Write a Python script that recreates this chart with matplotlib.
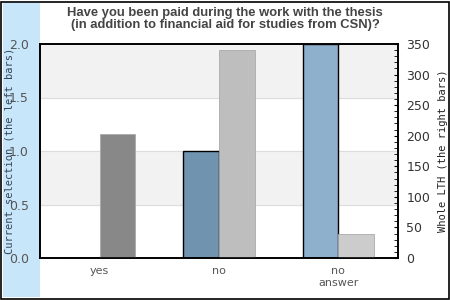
import numpy as np
import matplotlib.pyplot as plt
from matplotlib.patches import Rectangle
from matplotlib.ticker import MultipleLocator

# data
categories = ["yes", "no", "no\nanswer"]
current = [0, 1, 2]            # left axis
whole_lth = [203, 340, 39]     # right axis

blue_colors = ["#7094b0", "#7094b0", "#8fb0cc"]
gray_colors = ["#888888", "#bebebe", "#cccccc"]

fig = plt.figure(figsize=(4.5, 3), dpi=100)
fig.patch.set_facecolor("white")

# light blue band on the left + outer frame
fig.patches.append(Rectangle((3 / 450, 3 / 300), 37 / 450, 294 / 300,
                             transform=fig.transFigure, facecolor="#c8e6fa",
                             edgecolor="none", zorder=-1))
fig.patches.append(Rectangle((1 / 450, 1 / 300), 447.5 / 450, 297.5 / 300,
                             transform=fig.transFigure, facecolor="none",
                             edgecolor="black", linewidth=1.2, zorder=5))

ax = fig.add_axes([40 / 450, 42 / 300, 358 / 450, 214 / 300])
ax2 = ax.twinx()

x = np.arange(len(categories))
w = 0.3

# background stripes
for lo, hi in [(0.5, 1.0), (1.5, 2.0)]:
    ax.axhspan(lo, hi, color="#f2f2f2", zorder=0)
for y in [0.5, 1.0, 1.5]:
    ax.axhline(y, color="#dddddd", linewidth=0.8, zorder=0.5)

ax.bar(x - w / 2, current, width=w, color=blue_colors, edgecolor="black",
       linewidth=1, zorder=2)
ax2.bar(x + w / 2, whole_lth, width=w, color=gray_colors, edgecolor="#aaaaaa",
        linewidth=0.6, zorder=2)

ax.set_xlim(-0.5, 2.5)
ax.set_ylim(0, 2.0)
ax2.set_ylim(0, 350)

ax.set_yticks([0, 0.5, 1.0, 1.5, 2.0])
ax.set_yticklabels(["0.0", "0.5", "1.0", "1.5", "2.0"])
ax.tick_params(axis="y", length=0, pad=8, labelsize=9, labelcolor="#555555")
ax.set_xticks(x)
ax.set_xticklabels(categories)
ax.tick_params(axis="x", length=0, pad=6, labelsize=8, labelcolor="#555555")

ax2.yaxis.set_major_locator(MultipleLocator(50))
ax2.yaxis.set_minor_locator(MultipleLocator(10))
ax2.tick_params(axis="y", which="both", direction="in", length=3,
                labelsize=9, labelcolor="#333333", pad=6)

for a in (ax, ax2):
    for s in a.spines.values():
        s.set_linewidth(1.2)
        s.set_color("black")

ax.set_ylabel("Current selection (the left bars)", family="DejaVu Sans Mono",
              fontsize=7.5, color="#334455")
ax.yaxis.set_label_coords(-25 / 358, 0.5)
ax2.set_ylabel("Whole LTH (the right bars)", family="DejaVu Sans Mono",
               fontsize=7.5, color="#222222")
ax2.yaxis.set_label_coords(1 + 40 / 358, 0.5)

fig.text(0.5, 0.978,
         "Have you been paid during the work with the thesis\n"
         "(in addition to financial aid for studies from CSN)?",
         ha="center", va="top", fontsize=9.4, fontweight="bold",
         family="Liberation Sans", color="#444444", linespacing=1.0)

fig.savefig("out.png", dpi=100)
